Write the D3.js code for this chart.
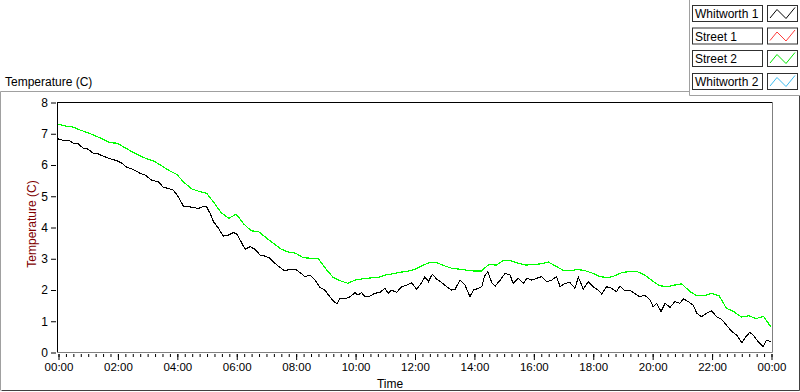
<!DOCTYPE html>
<html>
<head>
<meta charset="utf-8">
<script src="https://cdn.jsdelivr.net/npm/d3@7"></script>
<style>
body { margin: 0; background: #fff; }
svg { display: block; font-family: "Liberation Sans", Arial, sans-serif; }
</style>
</head>
<body>
<div id="chart"></div>
<script>

/* ==========================
   Data
========================== */

// Street 2, one reading every 15 minutes from 00:00 to 24:00
const street2Temps = [
7.29,7.23,7.20,7.10,7.02,6.92,6.82,6.70,6.68,6.54,6.40,6.28,6.18,6.10,5.95,5.80,
5.68,5.42,5.22,5.14,5.08,4.78,4.45,4.28,4.41,4.10,3.88,3.85,3.66,3.48,3.30,3.20,
3.16,3.02,3.00,3.00,2.68,2.40,2.28,2.20,2.30,2.34,2.37,2.38,2.46,2.50,2.55,2.58,
2.64,2.76,2.86,2.86,2.76,2.68,2.65,2.62,2.59,2.59,2.80,2.78,2.93,2.92,2.84,2.78,
2.80,2.82,2.88,2.75,2.62,2.60,2.64,2.60,2.52,2.41,2.38,2.44,2.55,2.57,2.57,2.46,
2.28,2.12,2.09,2.14,2.18,1.95,1.80,1.80,1.88,1.80,1.40,1.29,1.12,1.16,1.07,1.14,
0.80
];

// Whitworth 1, minutes after midnight and temperature
const whitworth1Minutes = [
0,14,21,31,41,51,61,71,81,91,102,119,129,139,152,166,176,189,202,213,226,233,
243,253,263,273,283,293,300,307,314,324,334,344,354,361,368,378,388,398,408,418,
428,438,448,458,469,479,489,499,509,519,529,539,549,556,563,570,580,590,600,606,
613,620,630,640,650,660,667,674,684,694,704,714,724,734,741,748,756,765,775,785,
795,802,812,822,832,839,849,856,861,868,876,883,893,903,913,919,930,940,947,957,
967,977,987,997,1007,1014,1024,1034,1044,1051,1061,1071,1081,1091,1098,1108,1118,
1128,1135,1145,1155,1165,1175,1185,1196,1202,1209,1218,1226,1236,1246,1256,1263,
1273,1283,1290,1300,1310,1320,1330,1340,1350,1361,1371,1381,1387,1397,1404,1414,
1424,1431,1440
];
const whitworth1Temps = [
6.82,6.76,6.78,6.68,6.66,6.52,6.49,6.36,6.34,6.27,6.20,6.12,6.04,5.91,5.84,5.72,
5.66,5.50,5.45,5.27,5.22,5.18,4.97,4.67,4.65,4.63,4.59,4.65,4.65,4.44,4.17,3.96,
3.71,3.74,3.82,3.78,3.58,3.29,3.37,3.29,3.10,3.07,3.00,2.84,2.71,2.60,2.65,2.65,
2.54,2.41,2.46,2.30,2.07,1.98,1.77,1.64,1.54,1.72,1.70,1.77,1.90,1.82,1.90,1.77,
1.79,1.88,1.90,2.04,1.88,1.98,1.91,2.09,2.14,2.22,2.01,2.20,2.41,2.25,2.49,2.33,
2.22,2.09,1.98,2.01,2.30,2.14,1.77,1.98,2.04,2.09,2.41,2.57,2.22,2.11,2.30,2.52,
2.46,2.20,2.36,2.20,2.36,2.30,2.36,2.41,2.25,2.30,2.41,2.09,2.20,2.22,2.04,2.39,
2.01,2.25,2.09,1.98,1.86,2.09,2.04,1.93,2.11,1.96,1.98,1.87,1.77,1.82,1.66,1.45,
1.56,1.29,1.56,1.43,1.61,1.56,1.70,1.61,1.50,1.24,1.13,1.24,1.32,1.13,1.05,0.86,
0.65,0.54,0.30,0.44,0.63,0.54,0.33,0.17,0.38,0.33
];

const legendNames = ["Whitworth 1", "Street 1", "Street 2", "Whitworth 2"];
const legendColors = ["#000000", "#ff3c3c", "#00e600", "#3cbcf0"];

const yTicks = [0, 1, 2, 3, 4, 5, 6, 7, 8];
const xTickMinutes = [0, 120, 240, 360, 480, 600, 720, 840, 960, 1080, 1200, 1320, 1440];

/* ==========================
   Chart
========================== */

const width = 800;
const height = 392;

const svg = d3.select("#chart")
.append("svg")
.attr("width", width)
.attr("height", height);

const x = d3.scaleLinear().domain([0, 1440]).range([58, 771]);
const y = d3.scaleLinear().domain([0, 8]).range([352, 102]);

// outer panel frame
svg.append("path")
.attr("d", "M0.5,390.5 L0.5,91.5 L689.5,91.5")
.attr("fill", "none")
.attr("stroke", "#a0a0a0");

svg.append("path")
.attr("d", "M1.5,390.5 L799.5,390.5 L799.5,95.5")
.attr("fill", "none")
.attr("stroke", "#404040");

// panel title
svg.append("text")
.attr("x", 5)
.attr("y", 86)
.attr("font-size", 12)
.attr("fill", "#000")
.text("Temperature (C)");

// plot frame
svg.append("line")
.attr("x1", 57.5).attr("x2", 772.5)
.attr("y1", 102.5).attr("y2", 102.5)
.attr("stroke", "#000");

svg.append("line")
.attr("x1", 57.5).attr("x2", 57.5)
.attr("y1", 102).attr("y2", 352.5)
.attr("stroke", "#000");

svg.append("path")
.attr("d", "M57.5,352.5 L772.5,352.5 L772.5,102.5")
.attr("fill", "none")
.attr("stroke", "#808080");

// y axis
const yAxis = svg.append("g")
.attr("transform", "translate(56,0.5)")
.call(
d3.axisLeft(y)
.tickValues(yTicks)
.tickSize(5)
.tickPadding(3)
.tickFormat(d3.format("d"))
);

yAxis.select(".domain").remove();
yAxis.selectAll("text")
.attr("font-size", 12)
.attr("font-family", "Liberation Sans, Arial, sans-serif")
.attr("fill", "#000");

// x axis: minor ticks every 15 minutes
const xMinor = svg.append("g")
.attr("transform", "translate(0.5,354)")
.call(
d3.axisBottom(x)
.tickValues(d3.range(0, 1441, 15))
.tickSize(3)
.tickFormat("")
);
xMinor.select(".domain").remove();

const xAxis = svg.append("g")
.attr("transform", "translate(0.5,354)")
.call(
d3.axisBottom(x)
.tickValues(xTickMinutes)
.tickSize(6)
.tickPadding(3)
.tickFormat(m => {
const h = Math.floor(m / 60) % 24;
return String(h).padStart(2, "0") + ":00";
})
);

xAxis.select(".domain").remove();
xAxis.selectAll("text")
.attr("font-size", 11.5)
.attr("font-family", "Liberation Sans, Arial, sans-serif")
.attr("fill", "#000");

// axis titles
svg.append("text")
.attr("x", 390)
.attr("y", 388)
.attr("text-anchor", "middle")
.attr("font-size", 12)
.text("Time");

svg.append("text")
.attr("transform", "translate(36,224) rotate(-90)")
.attr("text-anchor", "middle")
.attr("font-size", 12)
.attr("fill", "#800000")
.text("Temperature (C)");

// lines
const line = d3.line()
.x(d => x(d[0]))
.y(d => y(d[1]));

const street2Data = street2Temps.map((v, i) => [i * 15, v]);
const whitworth1Data = whitworth1Minutes.map((m, i) => [m, whitworth1Temps[i]]);

svg.append("path")
.datum(street2Data)
.attr("d", line)
.attr("fill", "none")
.attr("stroke", "#00ff00")
.attr("stroke-width", 1.2)
.attr("shape-rendering", "crispEdges");

svg.append("path")
.datum(whitworth1Data)
.attr("d", line)
.attr("fill", "none")
.attr("stroke", "#000")
.attr("stroke-width", 1.1)
.attr("shape-rendering", "crispEdges");

/* ==========================
   Legend
========================== */

svg.append("path")
.attr("d", "M689.5,0 L689.5,95.5 L800,95.5")
.attr("fill", "none")
.attr("stroke", "#a0a0a0");

const rowTops = [5, 27.5, 50, 73];

const rows = svg.selectAll(".legend-row")
.data(legendNames)
.enter()
.append("g")
.attr("class", "legend-row")
.attr("transform", (d, i) => `translate(0,${rowTops[i]})`);

rows.append("rect")
.attr("x", 692.5)
.attr("y", 0.5)
.attr("width", 70)
.attr("height", 16)
.attr("fill", "#fff")
.attr("stroke", "#303030");

rows.append("text")
.attr("x", 695)
.attr("y", 13)
.attr("font-size", 12)
.attr("fill", "#000")
.text(d => d);

rows.append("rect")
.attr("x", 767.5)
.attr("y", 0.5)
.attr("width", 30)
.attr("height", 16)
.attr("fill", "#fff")
.attr("stroke", "#303030");

rows.append("path")
.attr("d", "M770,13 L777,4.5 L786,13.5 L795,2.5")
.attr("fill", "none")
.attr("stroke", (d, i) => legendColors[i])
.attr("stroke-width", 1);

</script>
</body>
</html>
